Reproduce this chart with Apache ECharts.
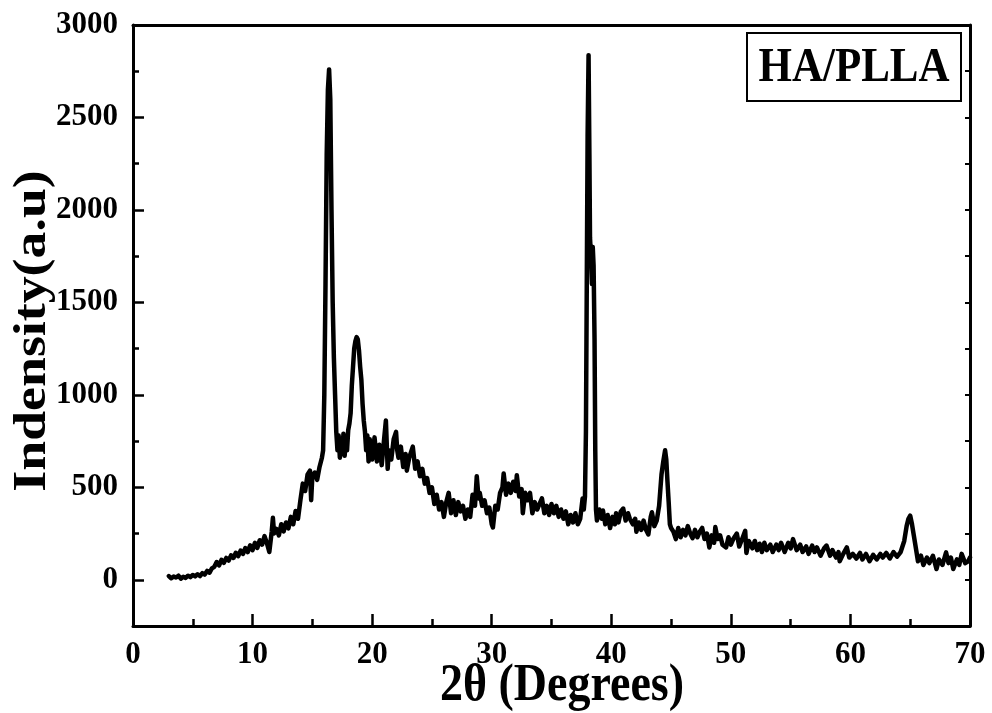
<!DOCTYPE html>
<html>
<head>
<meta charset="utf-8">
<script src="https://cdn.jsdelivr.net/npm/echarts@6/dist/echarts.min.js"></script>
<style>
html,body{margin:0;padding:0;background:#fff;}
#chart{width:992px;height:713px;}
</style>
</head>
<body>
<div id="chart"></div>
<script>
// [2θ (deg), intensity (a.u.)]
const baseline = [
[3.0,20],[3.2,8],[3.4,18],[3.6,12],[3.8,22],[4.0,6],[4.2,16],[4.4,10],[4.6,22],[4.8,14],
[5.0,26],[5.2,18],[5.4,30],[5.6,20],[5.8,36],[6.0,28],[6.2,48],[6.4,38],[6.6,62],[6.8,70],
[7.0,96],[7.2,78],[7.4,108],[7.6,92],[7.8,118],[8.0,104],[8.2,132],[8.4,118],[8.6,146],[8.8,128],
[9.0,158],[9.2,140],[9.4,172],[9.6,150],[9.8,186],[10.0,160],[10.2,200],[10.4,172],[10.6,214],[10.8,190],
[11.0,236],[11.2,198],[11.4,150],[11.6,260],[11.7,335],[11.8,250],[12.0,275],[12.2,240],[12.4,300],[12.6,262],
[12.8,310],[13.0,278],[13.2,340],[13.4,300],[13.6,372],[13.8,330],[14.0,430],[14.2,520],[14.4,480],[14.6,570],
[14.8,590],[14.9,430],[15.0,560],[15.2,580],[15.4,540],[15.6,610],[15.8,660]
];
const peak16 = [
[15.9,700],[16.0,1000],[16.1,1600],[16.2,2300],[16.3,2650],[16.4,2760],[16.5,2600],[16.6,2000],[16.7,1500],[16.8,1200],
[16.9,1000],[17.0,800],[17.1,700],[17.2,780],[17.3,660],[17.4,740],[17.5,680],[17.6,790],[17.7,670],[17.8,760],
[17.9,700],[18.0,810],[18.1,845],[18.2,900],[18.3,1050],[18.4,1150],[18.5,1250],[18.6,1290],[18.7,1312],[18.8,1300],
[18.9,1240],[19.0,1150],[19.1,1080],[19.2,950],[19.3,860],[19.4,800]
];
const middle = [
[19.5,700],[19.6,780],[19.7,640],[19.8,760],[19.9,700],[20.0,650],[20.2,770],[20.4,640],[20.6,730],[20.8,620],
[21.0,760],[21.15,861],[21.3,600],[21.4,700],[21.6,650],[21.8,760],[22.0,800],[22.1,700],[22.2,660],[22.4,720],
[22.6,610],[22.8,680],[22.9,590],[23.1,660],[23.4,720],[23.6,600],[23.8,640],[24.0,560],[24.2,600],[24.4,520],
[24.6,550],[24.8,470],[25.0,500],[25.2,410],[25.4,460],[25.6,380],[25.8,420],[26.0,340],[26.2,420],[26.4,470],
[26.6,360],[26.8,430],[27.0,350],[27.2,420],[27.4,370],[27.6,400],[27.8,330],[28.0,380],[28.2,340],[28.4,460],
[28.6,400],[28.75,560],[28.9,440],[29.0,470],[29.2,400],[29.4,430],[29.6,360],[29.8,390],[30.0,300],[30.1,283],
[30.3,400],[30.5,380],[30.7,470],[30.9,500],[31.0,575],[31.2,460],[31.4,520],[31.6,470],[31.8,530],[32.0,480],
[32.1,565],[32.3,450],[32.5,490],[32.6,360],[32.8,470],[33.0,430],[33.2,470],[33.4,360],[33.6,420],[33.8,380],
[34.0,410],[34.2,440],[34.4,360],[34.6,400],[34.8,350],[35.0,410],[35.2,360],[35.4,400],[35.6,340],[35.8,380],
[36.0,330],[36.2,370],[36.4,300],[36.6,350],[36.8,310],[37.0,360],[37.2,300],[37.4,330],[37.6,440],[37.7,380]
];
const peak38 = [
[37.8,450],[37.88,800],[37.95,1600],[38.02,2400],[38.1,2837],[38.17,2300],[38.22,1850],[38.3,1750],[38.38,1600],[38.45,1800],
[38.52,1700],[38.6,1300],[38.66,700],[38.72,380],[38.8,320]
];
const tail = [
[39.0,380],[39.2,330],[39.3,375],[39.5,300],[39.7,350],[39.9,280],[40.1,340],[40.3,300],[40.4,360],[40.6,310],
[40.8,370],[41.0,385],[41.2,320],[41.4,360],[41.55,330],[41.8,300],[42.0,330],[42.1,260],[42.3,310],[42.5,270],
[42.7,320],[42.9,270],[43.1,245],[43.3,340],[43.4,365],[43.6,290],[43.8,320],[44.0,400],[44.2,570],[44.35,640],
[44.5,700],[44.6,650],[44.7,530],[44.8,420],[44.9,300],[45.0,280],[45.2,260],[45.4,220],[45.6,280],[45.8,230],
[46.0,270],[46.2,240],[46.4,290],[46.6,250],[46.8,225],[47.0,270],[47.2,230],[47.4,260],[47.6,280],[47.8,220],
[48.0,250],[48.2,175],[48.4,240],[48.6,200],[48.7,285],[48.9,220],[49.1,240],[49.3,190],[49.6,175],[49.8,230],
[50.0,190],[50.2,220],[50.5,250],[50.7,180],[51.0,230],[51.2,265],[51.3,145],[51.5,210],[51.8,170],[52.0,210],
[52.2,160],[52.4,195],[52.6,150],[52.8,200],[53.0,160],[53.3,190],[53.5,150],[53.8,190],[54.0,160],[54.2,200],
[54.5,150],[54.8,200],[55.0,170],[55.2,220],[55.5,160],[55.8,190],[56.0,150],[56.3,180],[56.5,140],[56.8,185],
[57.0,150],[57.2,175],[57.5,130],[57.8,170],[58.0,185],[58.3,130],[58.5,160],[58.8,120],[59.0,150],[59.1,100],
[59.4,140],[59.7,175],[59.9,120],[60.2,140],[60.5,115],[60.8,145],[61.0,110],[61.3,140],[61.6,100],[61.9,135],
[62.2,110],[62.5,140],[62.7,120],[63.0,145],[63.3,115],[63.6,150],[63.9,125],[64.2,150],[64.5,210],[64.7,290],
[64.85,330],[65.0,347],[65.15,300],[65.3,240],[65.5,160],[65.65,100],[65.9,130],[66.1,80],[66.4,120],[66.6,90],
[66.9,130],[67.2,58],[67.4,110],[67.7,80],[68.0,148],[68.2,90],[68.4,120],[68.6,58],[68.9,110],[69.1,80],
[69.3,140],[69.6,90],[69.85,100],[70.0,120]
];
const yMajorTicks = [0, 500, 1000, 1500, 2000, 2500, 3000];
const xTitle = '2θ (Degrees)';
const yTitle = 'Indensity(a.u)';
const sampleLabel = 'HA/PLLA';

const FONT = '"Liberation Serif", "Times New Roman", serif';
const chart = echarts.init(document.getElementById('chart'), null, {renderer: 'canvas'});
const lineW = 3;
const data = baseline.concat(peak16, middle, peak38, tail);

chart.setOption({
  animation: false,
  backgroundColor: '#fff',
  grid: {left: 133, right: 22, top: 25, bottom: 87, containLabel: false},
  xAxis: [{
    type: 'value', min: 0, max: 70, interval: 10,
    axisLine: {show: true, onZero: false, lineStyle: {color: '#000', width: lineW}},
    axisTick: {show: true, inside: true, length: 12, lineStyle: {color: '#000', width: 2.5}},
    minorTick: {show: true, splitNumber: 2, length: 7, lineStyle: {color: '#000', width: 2.5}},
    axisLabel: {color: '#000', fontFamily: FONT, fontWeight: 'bold', fontSize: 31, margin: 13},
    splitLine: {show: false}
  }, {
    type: 'value', min: 0, max: 70, interval: 10, position: 'top',
    axisLine: {show: true, onZero: false, lineStyle: {color: '#000', width: lineW}},
    axisTick: {show: false}, axisLabel: {show: false}, splitLine: {show: false}
  }],
  yAxis: [{
    type: 'value', min: -250, max: 3000, interval: 250, position: 'left',
    axisLine: {show: true, onZero: false, lineStyle: {color: '#000', width: lineW}},
    axisTick: {show: true, inside: true, length: 6, lineStyle: {color: '#000', width: 2.5}},
    axisLabel: {color: '#000', fontFamily: FONT, fontWeight: 'bold', fontSize: 31, margin: 15,
      formatter: v => (v >= 0 && v % 500 === 0) ? String(v) : ''},
    splitLine: {show: false}
  }, {
    type: 'value', min: -250, max: 3000, interval: 250, position: 'left',
    axisLine: {show: false},
    axisTick: {show: true, inside: true, length: 11, customValues: yMajorTicks, lineStyle: {color: '#000', width: 2.5}},
    axisLabel: {show: false}, splitLine: {show: false}
  }, {
    type: 'value', min: -250, max: 3000, interval: 250, position: 'right',
    axisLine: {show: true, onZero: false, lineStyle: {color: '#000', width: lineW}},
    axisTick: {show: true, inside: true, length: 5, lineStyle: {color: '#000', width: 2}},
    axisLabel: {show: false}, splitLine: {show: false}
  }],
  series: [{
    type: 'line', xAxisIndex: 0, yAxisIndex: 0,
    data: data, showSymbol: false, smooth: false,
    lineStyle: {color: '#000', width: 4.5, join: 'round', cap: 'round'},
    z: 3
  }],
  graphic: [
    {type: 'rect', shape: {x: 747, y: 33, width: 214, height: 68},
     style: {fill: '#fff', stroke: '#000', lineWidth: 2}, z: 10},
    {type: 'text', x: 854, y: 68, scaleY: 1.15, z: 11,
     style: {text: sampleLabel, font: 'bold 43px ' + FONT, fill: '#000',
       textAlign: 'center', textVerticalAlign: 'middle', align: 'center', verticalAlign: 'middle'}},
    {type: 'text', x: 562, y: 686, scaleY: 1.15, z: 11,
     style: {text: xTitle, font: 'bold 46px ' + FONT, fill: '#000',
       textAlign: 'center', textVerticalAlign: 'middle', align: 'center', verticalAlign: 'middle'}},
    {type: 'text', x: 33, y: 331, rotation: Math.PI / 2, scaleX: 1.17, z: 11,
     style: {text: yTitle, font: 'bold 46px ' + FONT, fill: '#000',
       textAlign: 'center', textVerticalAlign: 'middle', align: 'center', verticalAlign: 'middle'}}
  ]
});
</script>
</body>
</html>
